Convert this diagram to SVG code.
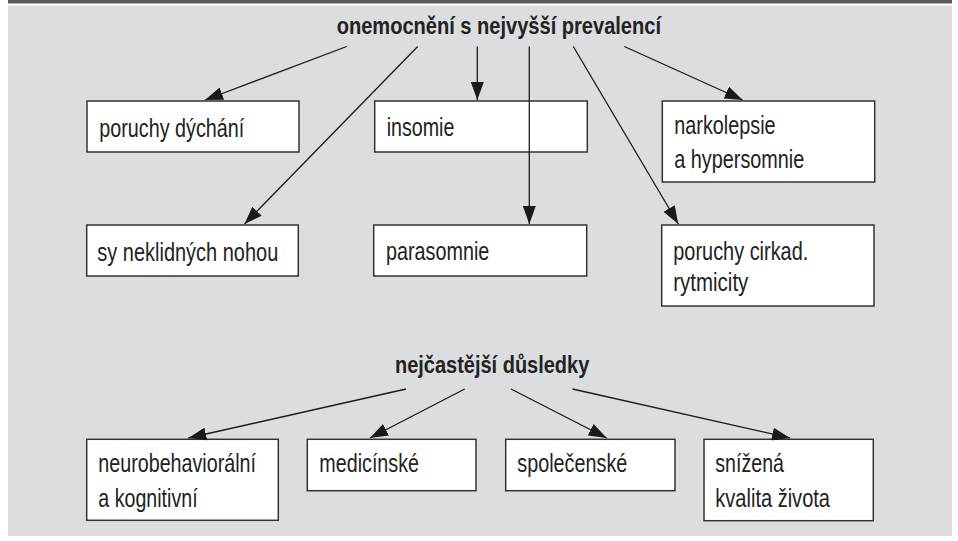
<svg xmlns="http://www.w3.org/2000/svg" width="958" height="541" viewBox="0 0 958 541">
<style>
.box{fill:#ffffff;stroke:#333333;stroke-width:1.5}
.t{font-family:"Liberation Sans",Arial,sans-serif;font-size:25px;fill:#222222}
.h{font-family:"Liberation Sans",Arial,sans-serif;font-size:23px;font-weight:bold;fill:#222222}
.c{stroke:#1a1a1a;stroke-width:1.3;fill:none;marker-end:url(#ah)}
</style>
<defs>
<marker id="ah" markerUnits="userSpaceOnUse" markerWidth="19" markerHeight="13" refX="18" refY="6.5" orient="auto">
<path d="M0,0 L18,6.5 L0,13 Z" fill="#1a1a1a"/>
</marker>
</defs>
<rect x="0" y="0" width="958" height="541" fill="#ffffff"/>
<rect x="8" y="0" width="944" height="3.5" fill="#5b5b5b"/>
<rect x="8" y="5.5" width="944" height="530.5" fill="#dcdddf"/>

<g id="title1"><text class="h" x="336.7" y="34" textLength="324.3" lengthAdjust="spacingAndGlyphs">onemocnění s nejvyšší prevalencí</text></g>
<g id="title2"><text class="h" x="395" y="372.5" textLength="194.3" lengthAdjust="spacingAndGlyphs">nejčastější důsledky</text></g>

<g id="n-dychani"><rect class="box" x="87" y="101" width="212" height="51"/><text class="t" x="99.3" y="136.5" textLength="145" lengthAdjust="spacingAndGlyphs">poruchy dýchání</text></g>
<g id="n-nohy"><rect class="box" x="86.7" y="225" width="211.6" height="51"/><text class="t" x="97.3" y="260.5" textLength="181" lengthAdjust="spacingAndGlyphs">sy neklidných nohou</text></g>
<g id="n-insomie"><rect class="box" x="374.7" y="101" width="212.6" height="51"/><text class="t" x="386.7" y="136" textLength="67.7" lengthAdjust="spacingAndGlyphs">insomie</text></g>
<g id="n-parasomnie"><rect class="box" x="373.7" y="225" width="213" height="51"/><text class="t" x="386" y="260" textLength="103.3" lengthAdjust="spacingAndGlyphs">parasomnie</text></g>
<g id="n-narko"><rect class="box" x="662.3" y="101" width="212.4" height="81"/><text class="t" x="674.3" y="134" textLength="101.3" lengthAdjust="spacingAndGlyphs">narkolepsie</text><text class="t" x="674.3" y="167.5" textLength="130" lengthAdjust="spacingAndGlyphs">a hypersomnie</text></g>
<g id="n-cirkad"><rect class="box" x="661.7" y="225" width="212.3" height="81"/><text class="t" x="673.3" y="260" textLength="135" lengthAdjust="spacingAndGlyphs">poruchy cirkad.</text><text class="t" x="673.3" y="291" textLength="75" lengthAdjust="spacingAndGlyphs">rytmicity</text></g>

<g id="n-neuro"><rect class="box" x="86.7" y="439.3" width="191.6" height="81"/><text class="t" x="98.3" y="471.7" textLength="157.7" lengthAdjust="spacingAndGlyphs">neurobehaviorální</text><text class="t" x="98.3" y="506.7" textLength="99.3" lengthAdjust="spacingAndGlyphs">a kognitivní</text></g>
<g id="n-medic"><rect class="box" x="307.3" y="439.3" width="168.7" height="51.4"/><text class="t" x="319.3" y="471.5" textLength="99.7" lengthAdjust="spacingAndGlyphs">medicínské</text></g>
<g id="n-spol"><rect class="box" x="505.7" y="439.3" width="169.3" height="51.4"/><text class="t" x="517.3" y="471.5" textLength="110" lengthAdjust="spacingAndGlyphs">společenské</text></g>
<g id="n-kvalita"><rect class="box" x="704" y="439.3" width="169.3" height="81.4"/><text class="t" x="715.3" y="471.7" textLength="68.7" lengthAdjust="spacingAndGlyphs">snížená</text><text class="t" x="715.3" y="506.5" textLength="114.7" lengthAdjust="spacingAndGlyphs">kvalita života</text></g>

<g id="connectors">
<line class="c" x1="346.7" y1="46.5" x2="205" y2="100"/>
<line class="c" x1="417.7" y1="46.5" x2="244.5" y2="224"/>
<line class="c" x1="477.3" y1="46.5" x2="477.3" y2="100"/>
<line class="c" x1="529.3" y1="46.5" x2="529.3" y2="224"/>
<line class="c" x1="573.3" y1="46.5" x2="678.3" y2="224"/>
<line class="c" x1="624.3" y1="46.5" x2="742.7" y2="100"/>
<line class="c" x1="406" y1="389" x2="188.3" y2="438"/>
<line class="c" x1="464.7" y1="389" x2="370" y2="438"/>
<line class="c" x1="511" y1="389" x2="606.7" y2="438"/>
<line class="c" x1="572.5" y1="389" x2="790" y2="438"/>
</g>
</svg>
